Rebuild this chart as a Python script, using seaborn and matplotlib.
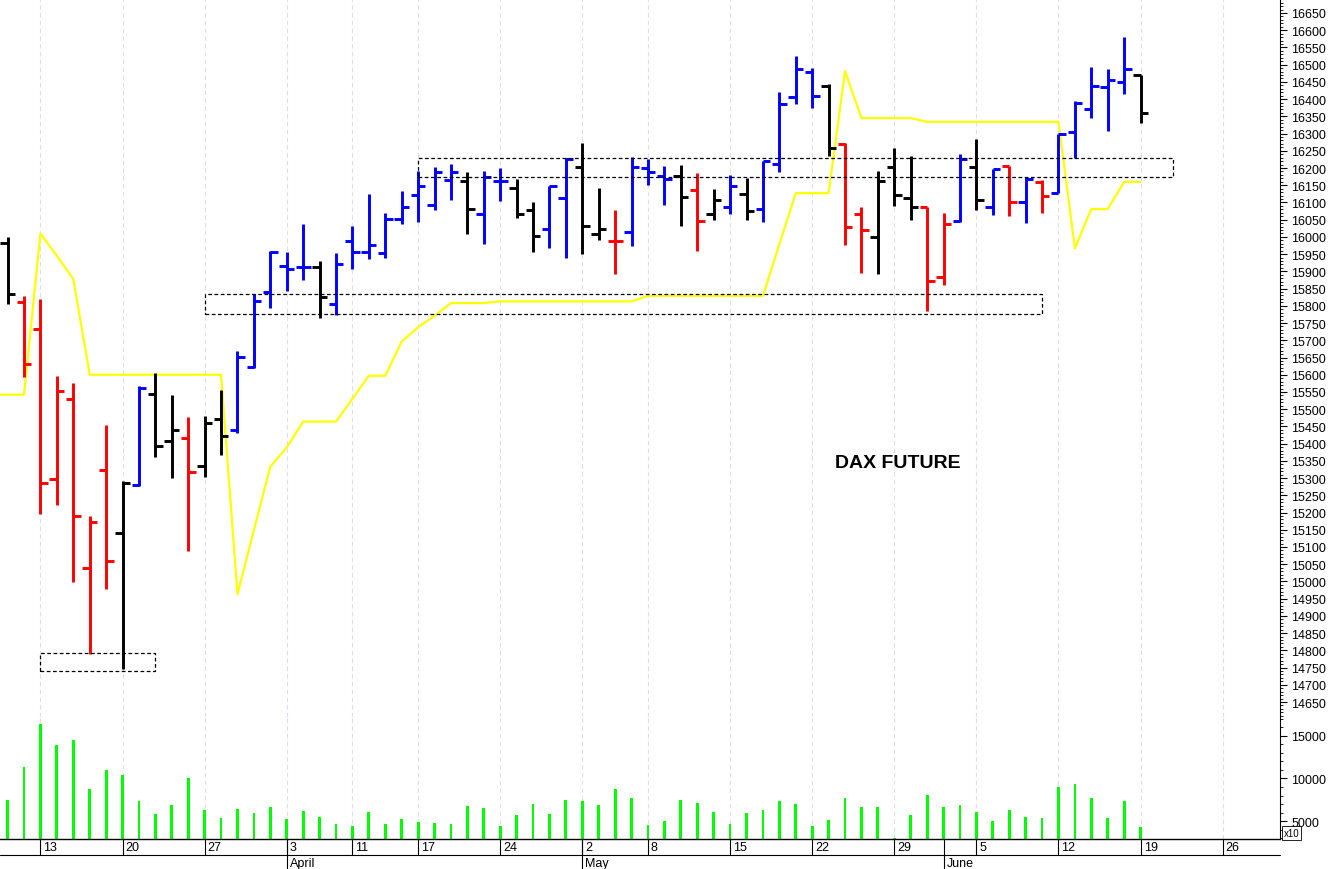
import numpy as np
import pandas as pd
import matplotlib
matplotlib.use("Agg")
import matplotlib.pyplot as plt
from matplotlib.ticker import MultipleLocator, FixedLocator, StrMethodFormatter
from matplotlib.patches import Rectangle
from matplotlib.lines import Line2D
import seaborn as sns

# ---------------- data (trading-day index 0 = 9 March 2023) ----------------
days = list(range(70))
opens = [15982, 15810, 15733, 15297, 15530, 15038, 15323, 15141, 15281, 15544,
         15407, 15416, 15336, 15472, 15441, 15622, 15839, 15917, 15912, 15912,
         15805, 15988, 15957, 15953, 16052, 16122, 16093, 16166, 16163, 16067,
         16161, 16142, 16079, 16023, 16114, 16202, 16009, 15987, 16015, 16199,
         16178, 16178, 16137, 16067, 16088, 16125, 16081, 16212, 16405, 16478,
         16439, 16270, 16067, 15999, 16204, 16112, 16086, 15883, 16047, 16204,
         16086, 16207, 16102, 16159, 16128, 16304, 16370, 16435, 16451, 16470]
highs = [16001, 15829, 15820, 15595, 15577, 15189, 15454, 15292, 15568, 15605,
         15542, 15478, 15480, 15557, 15669, 15834, 15960, 15955, 16037, 15929,
         15953, 16031, 16124, 16069, 16134, 16192, 16202, 16212, 16188, 16192,
         16199, 16168, 16101, 16149, 16228, 16272, 16143, 16079, 16233, 16226,
         16207, 16209, 16185, 16138, 16180, 16170, 16221, 16420, 16525, 16490,
         16444, 16273, 16086, 16192, 16257, 16236, 16086, 16069, 16241, 16283,
         16197, 16207, 16173, 16164, 16299, 16394, 16492, 16488, 16580, 16470]
lows = [15805, 15593, 15196, 15223, 14999, 14789, 14978, 14746, 15278, 15362,
        15300, 15088, 15303, 15367, 15432, 15620, 15793, 15842, 15875, 15765,
        15773, 15907, 15935, 15939, 16038, 16043, 16078, 16107, 16009, 15980,
        16103, 16055, 15955, 15967, 15938, 15950, 15992, 15892, 15973, 16151,
        16093, 16031, 15960, 16049, 16067, 16049, 16044, 16188, 16386, 16373,
        16236, 15977, 15894, 15892, 16091, 16049, 15786, 15859, 16043, 16078,
        16064, 16060, 16041, 16070, 16128, 16228, 16345, 16307, 16415, 16331]
closes = [15834, 15631, 15286, 15552, 15190, 15172, 15058, 15286, 15561, 15392,
          15440, 15317, 15459, 15421, 15651, 15815, 15955, 15907, 15912, 15826,
          15922, 15955, 15976, 16052, 16086, 16147, 16188, 16189, 16081, 16173,
          16161, 16067, 16003, 16147, 16226, 16031, 16023, 15987, 16202, 16188,
          16168, 16115, 16045, 16108, 16149, 16076, 16221, 16386, 16487, 16410,
          16257, 16028, 16020, 16161, 16122, 16086, 15871, 16038, 16226, 16107,
          16197, 16102, 16168, 16120, 16299, 16389, 16439, 16456, 16488, 16361]
bar_colors = list("krrrrrrkbkkrkkbbbbbkbbbbbbbbkbbkkbbkkrbbbkrkbkbbbbkrrkkkrrbkbrbrbbbbbk")
volume = [7490, 11340, 16370, 13880, 14500, 8770, 10990, 10370, 7370, 5850,
          6900, 10060, 6320, 5390, 6470, 5970, 6670, 5300, 6200, 5540,
          4720, 4450, 6090, 4720, 5300, 4920, 4840, 4720, 6750, 6590,
          4420, 5740, 7020, 5850, 7490, 7370, 6900, 8810, 7760, 4600,
          5040, 7490, 7100, 6090, 4720, 5970, 6320, 7340, 7020, 4490,
          5190, 7690, 6670, 6670, 3050, 5770, 8070, 6670, 6870, 6090,
          5040, 6320, 5500, 5420, 8970, 9320, 7720, 5390, 7340, 4300]
# indicator line starts one session earlier (8 March, index -1)
yellow_days = list(range(-1, 70))
yellow = [15542, 15542, 15542, 16010, 15945, 15878, 15600, 15600, 15600, 15600,
          15600, 15600, 15600, 15600, 15600, 14963, 15149, 15333, 15389, 15464,
          15464, 15464, 15530, 15597, 15597, 15696, 15738, 15771, 15808, 15808,
          15808, 15813, 15813, 15813, 15813, 15813, 15813, 15813, 15813, 15813,
          15829, 15829, 15829, 15829, 15829, 15829, 15829, 15829, 15979, 16127,
          16127, 16127, 16481, 16345, 16345, 16345, 16345, 16334, 16334, 16334,
          16334, 16334, 16334, 16334, 16334, 16334, 15967, 16081, 16081, 16160,
          16160]

rect_start = [2, 12, 25]
rect_end = [9, 63, 71]
rect_low = [14739, 15775, 16173]
rect_high = [14792, 15835, 16228]

week_ticks = [2, 7, 12, 17, 21, 25, 30, 35, 39, 44, 49, 54, 59, 64, 69, 74]
week_labels = ["13", "20", "27", "3", "11", "17", "24", "2", "8", "15", "22",
               "29", "5", "12", "19", "26"]
month_ticks = [17, 35, 57]
month_labels = ["April", "May", "June"]

title_text = "DAX FUTURE"

# ---------------- style ----------------
sns.set_theme(style="white")
plt.rcParams["font.family"] = ["Liberation Sans", "DejaVu Sans"]
plt.rcParams["text.color"] = "black"
plt.rcParams["xtick.color"] = "black"
plt.rcParams["ytick.color"] = "black"

W, H = 1328, 870
fig = plt.figure(figsize=(W / 100, H / 100), dpi=100)
fig.patch.set_facecolor("white")
ax = fig.add_axes([0, 1 - 718 / H, 1280 / W, 718 / H])
axv = fig.add_axes([0, 1 - 840 / H, 1280 / W, 122 / H])

cmap = {"b": "#0000ff", "r": "#ff0000", "k": "#000000"}
cols = [cmap[c] for c in bar_colors]
d = np.array(days)

# yellow indicator
sns.lineplot(x=yellow_days, y=yellow, color="#ffff00", lw=1.6, ax=ax, zorder=2,
             legend=False)

# OHLC bars
ax.vlines(d, lows, highs, colors=cols, lw=2.1, zorder=3)
ax.hlines(opens, d - 0.45, d, colors=cols, lw=2.1, zorder=3)
ax.hlines(closes, d, d + 0.45, colors=cols, lw=2.1, zorder=3)

# dashed zones
for x0, x1, lo, hi in zip(rect_start, rect_end, rect_low, rect_high):
    ax.add_patch(Rectangle((x0, lo), x1 - x0, hi - lo, fill=False, ec="black",
                           lw=0.9, ls=(0, (3, 2)), zorder=4))

ax.text(54.2, 15332, title_text, fontsize=14, fontweight="bold",
        ha="center", va="baseline", color="black")

# volume
df = pd.DataFrame({"day": days, "volume": volume})
sns.barplot(data=df, x="day", y="volume", native_scale=True, width=0.17,
            color="#00ff00", saturation=1, linewidth=0, errorbar=None, ax=axv)
axv.set_xlabel("")
axv.set_ylabel("")

# ---------------- axes ----------------
xlim = (-0.463, 77.49)
for a in (ax, axv):
    a.set_xlim(*xlim)
    a.set_facecolor("white")
    a.set_xticks(week_ticks)
    a.grid(True, axis="x", which="major", color="#dcdcf2", ls=(0, (4, 3)), lw=0.8)
    a.grid(False, axis="y")
    a.set_axisbelow(True)
    a.yaxis.tick_right()
    for s in ("left", "top"):
        a.spines[s].set_visible(False)
    a.spines["right"].set_color("black")
    a.spines["right"].set_linewidth(0.8)
    a.yaxis.set_major_formatter(StrMethodFormatter("{x:.0f}"))
    a.tick_params(axis="y", which="major", length=5, width=0.8, direction="out",
                  labelsize=9, pad=3, colors="black", right=True, left=False)
    a.tick_params(axis="y", which="minor", length=2.5, width=0.6, direction="out",
                  colors="black", right=True, left=False)

ax.spines["bottom"].set_visible(False)
ax.tick_params(axis="x", which="both", length=0, labelbottom=False)
ax.set_ylim(14606.5, 16690.6)
ax.yaxis.set_major_locator(MultipleLocator(50))
ax.yaxis.set_minor_locator(MultipleLocator(10))

axv.set_ylim(2933, 17182)
axv.yaxis.set_major_locator(MultipleLocator(5000))
axv.yaxis.set_minor_locator(MultipleLocator(1000))
axv.spines["bottom"].set_color("black")
axv.spines["bottom"].set_linewidth(1.0)
axv.set_xticklabels([])
axv.xaxis.set_minor_locator(FixedLocator(month_ticks))
axv.xaxis.remove_overlapping_locs = False
axv.tick_params(axis="x", which="major", length=11.5, width=0.8, direction="out",
                colors="black", bottom=True)
axv.tick_params(axis="x", which="minor", length=21.6, width=0.8, direction="out",
                colors="black", bottom=True)

for i, lab in zip(week_ticks, week_labels):
    axv.annotate(lab, xy=(i, 0), xycoords=("data", "axes fraction"),
                 xytext=(3, -2), textcoords="offset pixels",
                 ha="left", va="top", fontsize=9, color="black")
for i, lab in zip(month_ticks, month_labels):
    axv.annotate(lab, xy=(i, 0), xycoords=("data", "axes fraction"),
                 xytext=(3, -18), textcoords="offset pixels",
                 ha="left", va="top", fontsize=9, color="black")

axv.text(1.003, 0.01, "x10", transform=axv.transAxes, fontsize=7, va="bottom",
         ha="left", bbox=dict(boxstyle="square,pad=0.2", fc="white", ec="black", lw=0.6))

fig.add_artist(Line2D([0, 1280 / W], [1 - 856 / H] * 2, transform=fig.transFigure,
                      color="black", lw=0.8))

fig.savefig("out.png", dpi=100, facecolor="white")
